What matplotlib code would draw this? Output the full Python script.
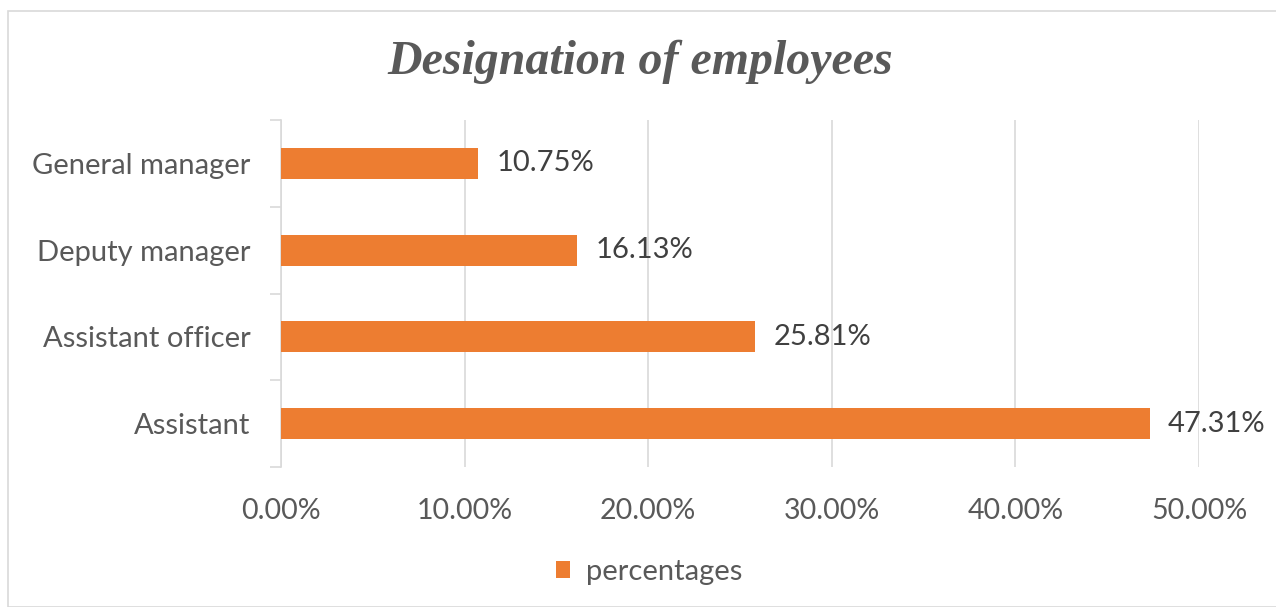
import numpy as np
import matplotlib.pyplot as plt
from matplotlib.patches import Rectangle
from matplotlib.ticker import FuncFormatter

# Data (bottom to top)
designations = ["Assistant", "Assistant officer", "Deputy manager", "General manager"]
percentages = [47.31, 25.81, 16.13, 10.75]
x_ticks = [0, 10, 20, 30, 40, 50]

bar_color = "#ED7D31"
text_color = "#595959"
grid_color = "#D9D9D9"
font = "Lato"
fs = 21

fig = plt.figure(figsize=(12.76, 6.07), dpi=100)
ax = fig.add_axes([281 / 1276, 1 - 467 / 607, (1199 - 281) / 1276, (467 - 120) / 607])

y = np.arange(len(designations))
bars = ax.barh(y, percentages, height=0.36, color=bar_color, label="percentages", zorder=3)

for yi, v in zip(y, percentages):
    ax.text(v + 1.0, yi, f"{v:.2f}%", va="center", ha="left",
            fontsize=fs, color="#404040", family=font, zorder=4)

ax.set_xlim(0, 50)
ax.set_ylim(-0.5, len(designations) - 0.5)
ax.set_xticks(x_ticks)
ax.xaxis.set_major_formatter(FuncFormatter(lambda v, p: f"{v:.2f}%"))
ax.grid(axis="x", color=grid_color, linewidth=1.2, zorder=0)

ax.set_yticks(y)
ax.set_yticklabels(designations)
ax.set_yticks(np.arange(-0.5, len(designations)), minor=True)
ax.tick_params(axis="y", which="major", length=0, pad=22, labelsize=fs, labelcolor=text_color)
ax.tick_params(axis="y", which="minor", length=8, color=grid_color, width=1.2)
ax.tick_params(axis="x", length=0, pad=22, labelsize=20.5, labelcolor=text_color)
for lbl in ax.get_xticklabels() + ax.get_yticklabels():
    lbl.set_family(font)

for s in ["top", "right", "bottom"]:
    ax.spines[s].set_visible(False)
ax.spines["left"].set_color(grid_color)
ax.spines["left"].set_linewidth(1.2)

fig.text(640 / 1276, 1 - 62 / 607, "Designation of employees", ha="center", va="center",
         fontsize=34.5, fontweight="bold", fontstyle="italic", family="Liberation Serif",
         color=text_color)

leg = fig.legend(handles=[bars], labels=["percentages"], loc="center",
                 bbox_to_anchor=(649 / 1276, 1 - 572 / 607), frameon=False,
                 prop={"family": font, "size": fs}, handlelength=0.5, handleheight=0.5,
                 handletextpad=0.55)
for t in leg.get_texts():
    t.set_color(text_color)

fig.patches.append(Rectangle((8 / 1276, 0), 1.0, 1 - 11 / 607, transform=fig.transFigure,
                             fill=False, edgecolor=grid_color, linewidth=1.2))

fig.savefig("out.png", dpi=100)
